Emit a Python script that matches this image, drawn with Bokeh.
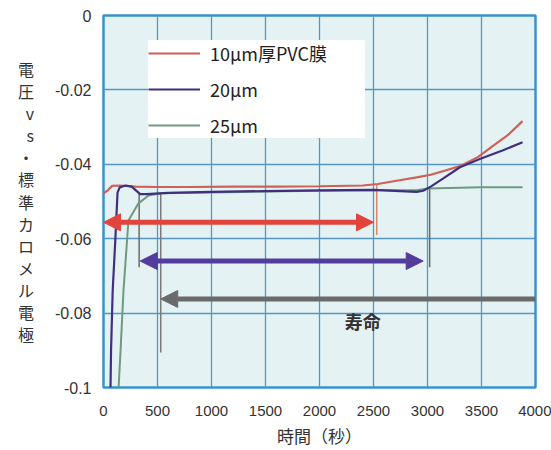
from bokeh.plotting import figure
from bokeh.models import (ColumnDataSource, FixedTicker, Legend, LegendItem,
                          Arrow, NormalHead)
from bokeh.core.properties import value
from bokeh.embed import file_html
from bokeh.resources import INLINE

# ---- data ----
t_10 = [0, 40, 80, 150, 300, 500, 800, 1200, 1600, 2000, 2400, 2540, 2700,
        2900, 3030, 3150, 3300, 3470, 3600, 3750, 3880]
v_10 = [-0.0478, -0.047, -0.0458, -0.0457, -0.046, -0.0461, -0.0461, -0.046,
        -0.046, -0.0459, -0.0457, -0.0453, -0.0445, -0.0435, -0.0428, -0.0418,
        -0.0405, -0.038, -0.0352, -0.032, -0.0284]

t_20 = [65, 70, 85, 110, 130, 150, 205, 260, 300, 340, 400, 600, 1000, 1500,
        2000, 2500, 2800, 2900, 2960, 3030, 3150, 3300, 3490, 3700, 3880]
v_20 = [-0.1, -0.09, -0.074, -0.06, -0.0476, -0.0462, -0.0457, -0.046,
        -0.047, -0.048, -0.048, -0.0477, -0.0474, -0.0472, -0.047, -0.0469,
        -0.0473, -0.0474, -0.0471, -0.046, -0.0437, -0.0408, -0.0385, -0.0362,
        -0.0341]

t_25 = [140, 157, 185, 231, 324, 417, 530, 1000, 1500, 2000, 2500, 2900,
        3000, 3500, 3880]
v_25 = [-0.1, -0.0906, -0.074, -0.0551, -0.0505, -0.0484, -0.0478, -0.0476,
        -0.0473, -0.0471, -0.047, -0.047, -0.0465, -0.0462, -0.0462]

labels = ["10μm厚PVC膜", "20μm", "25μm"]

# lifetime marker lines
mark_x = [330, 530, 2530, 3020]
mark_top = [-0.0478, -0.0477, -0.0453, -0.046]
mark_bot = [-0.0677, -0.0906, -0.059, -0.0677]

# lifetime arrows
arr_y = [-0.0556, -0.066, -0.0762]
arr_start = [0, 340, 4000]
arr_end = [2500, 2960, 530]

life_text = ["寿命"]
life_x = [2400]
life_y = [-0.0822]

x_ticks = [0, 500, 1000, 1500, 2000, 2500, 3000, 3500, 4000]
y_ticks = [0, -0.02, -0.04, -0.06, -0.08, -0.1]
y_tick_labels = ["0", "-0.02", "-0.04", "-0.06", "-0.08", "-0.1"]

y_title = "電\n圧\nv\ns\n・\n標\n準\nカ\nロ\nメ\nル\n電\n極"

# ---- figure ----
p = figure(width=551, height=450, x_range=(0, 4000), y_range=(-0.1, 0),
           output_backend="svg", toolbar_location=None,
           min_border_left=103, min_border_right=16, min_border_top=15,
           min_border_bottom=63)
p.background_fill_color = "#e4f2f4"
p.border_fill_color = "white"
p.outline_line_color = "#3a92cc"
p.outline_line_width = 2.5

for ax in (p.xaxis, p.yaxis):
    ax.axis_line_color = None
    ax.major_tick_line_color = None
    ax.minor_tick_line_color = None
    ax.major_label_text_font = "Liberation Sans"
    ax.major_label_text_color = "#333333"
p.xaxis.major_label_text_font_size = "15px"
p.yaxis.major_label_text_font_size = "16px"

p.xaxis.ticker = FixedTicker(ticks=x_ticks)
p.yaxis.ticker = FixedTicker(ticks=y_ticks)
p.yaxis.major_label_overrides = {t: l for t, l in zip(y_ticks, y_tick_labels)}
p.xaxis.major_label_standoff = 12
p.yaxis.major_label_standoff = 6
p.xaxis.axis_label = "時間（秒）"
p.xaxis.axis_label_text_font = "Noto Sans CJK JP"
p.xaxis.axis_label_text_font_size = "17px"
p.xaxis.axis_label_text_font_style = "normal"
p.xaxis.axis_label_text_color = "#333333"
p.xaxis.axis_label_standoff = 4

p.yaxis.axis_label = y_title
p.yaxis.axis_label_orientation = "horizontal"
p.yaxis.axis_label_text_font = "Noto Sans CJK JP"
p.yaxis.axis_label_text_font_size = "16px"
p.yaxis.axis_label_text_font_style = "normal"
p.yaxis.axis_label_text_color = "#333333"
p.yaxis.axis_label_text_line_height = 0.92
p.yaxis.axis_label_standoff = 18

p.grid.grid_line_color = "#5596c4"
p.grid.grid_line_width = 1.3
p.xgrid.ticker = FixedTicker(ticks=x_ticks)
p.ygrid.ticker = FixedTicker(ticks=y_ticks)

# marker lines
msrc = ColumnDataSource(dict(x=mark_x, y0=mark_top, y1=mark_bot,
                             c=["#6a6a6a", "#7a7a7a", "#d88a70", "#6a6a6a"]))
p.segment(x0="x", y0="y0", x1="x", y1="y1", source=msrc,
          line_color="c", line_width=1.5)

r10 = p.line(t_10, v_10, line_color="#cf5f58", line_width=2.2)
r25 = p.line(t_25, v_25, line_color="#6e9a80", line_width=2)
r20 = p.line(t_20, v_20, line_color="#3f2f7c", line_width=2.2)

# arrows
arrow_colors = ["#e2443c", "#533c9c", "#6a6a6a"]
for i in range(3):
    src = ColumnDataSource(dict(x0=[arr_start[i]], x1=[arr_end[i]],
                                y=[arr_y[i]]))
    head = NormalHead(size=17, fill_color=arrow_colors[i],
                      line_color=arrow_colors[i])
    start = None
    if i < 2:
        start = NormalHead(size=17, fill_color=arrow_colors[i],
                           line_color=arrow_colors[i])
    a = Arrow(x_start="x0", y_start="y", x_end="x1", y_end="y", source=src,
              line_color=arrow_colors[i], line_width=5, end=head,
              start=start)
    p.add_layout(a)

p.text(x=life_x, y=life_y, text=life_text, text_font=value("Noto Sans CJK JP"),
       text_font_size="18px", text_font_style="bold", text_color="#333333",
       text_align="center", text_baseline="middle")

legend = Legend(items=[LegendItem(label=labels[0], renderers=[r10]),
                       LegendItem(label=labels[1], renderers=[r20]),
                       LegendItem(label=labels[2], renderers=[r25])],
                location=(45, 249))
legend.label_text_font = "Noto Sans CJK JP"
legend.label_text_font_size = "18px"
legend.label_text_color = "#222222"
legend.glyph_width = 52
legend.glyph_height = 22
legend.label_height = 22
legend.label_standoff = 10
legend.spacing = 10
legend.padding = 7
legend.margin = 0
legend.border_line_color = None
legend.background_fill_color = "white"
legend.background_fill_alpha = 1.0
legend.label_width = 155
p.add_layout(legend)

open("out.html", "w").write(file_html(p, INLINE))
